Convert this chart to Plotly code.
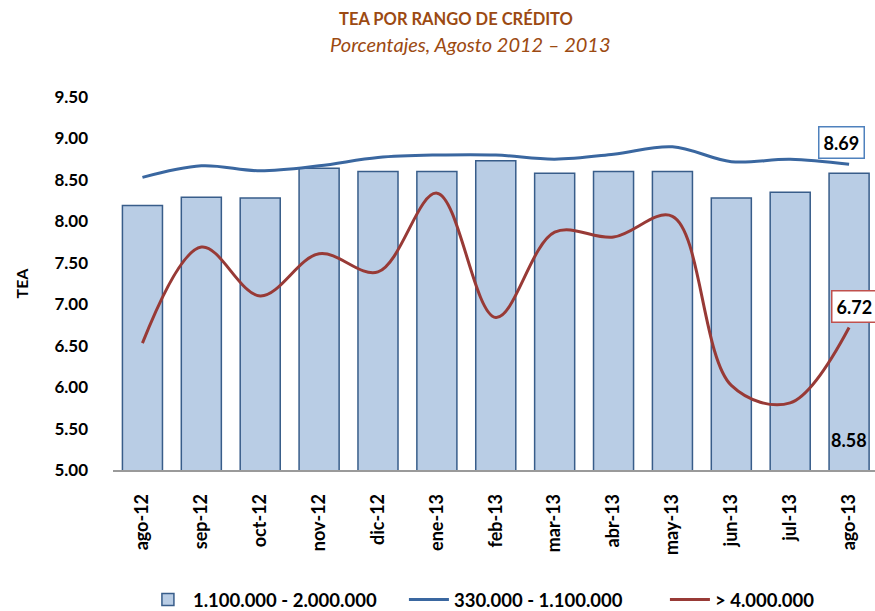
import plotly.graph_objects as go

months = ["ago-12", "sep-12", "oct-12", "nov-12", "dic-12", "ene-13", "feb-13",
          "mar-13", "abr-13", "may-13", "jun-13", "jul-13", "ago-13"]
bar_vals = [8.19, 8.29, 8.28, 8.64, 8.60, 8.60, 8.73, 8.58, 8.60, 8.60, 8.28, 8.35, 8.58]
blue_vals = [8.53, 8.67, 8.61, 8.67, 8.77, 8.80, 8.80, 8.75, 8.81, 8.90, 8.72, 8.75, 8.69]
red_vals = [6.53, 7.69, 7.10, 7.61, 7.39, 8.34, 6.84, 7.87, 7.81, 8.06, 6.02, 5.81, 6.72]
y_ticks = [5.0, 5.5, 6.0, 6.5, 7.0, 7.5, 8.0, 8.5, 9.0, 9.5]
series_names = ["1.100.000 - 2.000.000", "330.000 - 1.100.000", "> 4.000.000"]

FONT = "Lato"
BROWN = "#9C4A12"
BAR_FILL = "#B9CDE5"
BAR_LINE = "#385D8A"
BLUE = "#3A67A0"
RED = "#983A36"

x_idx = list(range(len(months)))

fig = go.Figure()
fig.add_trace(go.Bar(
    x=x_idx, y=bar_vals, base=0, name="<b>%s</b>" % series_names[0],
    marker=dict(color=BAR_FILL, line=dict(color=BAR_LINE, width=1.5)),
    width=0.68,
))
fig.add_trace(go.Scatter(
    x=x_idx, y=blue_vals, name="<b>%s</b>" % series_names[1], mode="lines",
    line=dict(color=BLUE, width=3, shape="spline", smoothing=1.0),
))
fig.add_trace(go.Scatter(
    x=x_idx, y=red_vals, name="<b>%s</b>" % series_names[2], mode="lines",
    line=dict(color=RED, width=3, shape="spline", smoothing=1.0),
))

last = len(months) - 1
annotations = [
    dict(text="<i>Porcentajes, Agosto 2012 – 2013</i>", xref="paper", yref="paper",
         x=(470 - 113) / 762, y=(470 - 44) / 373, showarrow=False,
         font=dict(family=FONT, size=20, color=BROWN), xanchor="center", yanchor="middle"),
    dict(text="<b>%.2f</b>" % blue_vals[last], x=last, y=blue_vals[last], xref="x", yref="y",
         showarrow=False, xshift=-8, yshift=22, bgcolor="white", bordercolor="#4F81BD",
         borderwidth=1.5, borderpad=4, font=dict(family=FONT, size=18, color="black")),
    dict(text="<b>%.2f</b>" % red_vals[last], x=last, y=red_vals[last], xref="x", yref="y",
         showarrow=False, xshift=5, yshift=21, bgcolor="white", bordercolor="#C0504D",
         borderwidth=1.5, borderpad=4, font=dict(family=FONT, size=18, color="black")),
    dict(text="<b>%.2f</b>" % bar_vals[last], x=last, y=5.0, xref="x", yref="y",
         showarrow=False, xshift=0, yshift=30, font=dict(family=FONT, size=18, color="black")),
]

fig.update_layout(
    width=875, height=611,
    margin=dict(l=113, r=0, t=97, b=141, autoexpand=False),
    paper_bgcolor="white", plot_bgcolor="white",
    title=dict(text="<b>TEA POR RANGO DE CRÉDITO</b>", x=456 / 875, xanchor="center",
               y=1 - 19 / 611, yanchor="middle",
               font=dict(family=FONT, size=16.5, color=BROWN)),
    font=dict(family=FONT, color="black"),
    showlegend=True,
    legend=dict(orientation="h", x=-0.0001, xanchor="left", indentation=30,
                y=(470 - 600) / 373, yanchor="middle",
                font=dict(family=FONT, size=18.5, color="black"),
                itemwidth=40, entrywidth=176, traceorder="normal"),
    annotations=annotations,
)
fig.update_xaxes(
    range=[-0.5, 12.44], tickmode="array", tickvals=x_idx,
    ticktext=["<b>%s</b>" % m for m in months], tickangle=-90,
    tickfont=dict(family=FONT, size=18, color="black"),
    showline=True, linecolor="#9A9A9A", linewidth=1.5, showgrid=False,
    ticks="", ticklabelstandoff=15, zeroline=False,
)
fig.update_yaxes(
    range=[5.0, 9.5], tickmode="array", tickvals=y_ticks,
    ticktext=["<b>%.2f</b>" % v for v in y_ticks],
    tickfont=dict(family=FONT, size=17, color="black"),
    showgrid=False, zeroline=False, showline=False, ticks="",
    ticklabelstandoff=24,
    title=dict(text="<b>TEA</b>", font=dict(family=FONT, size=16, color="black"), standoff=21),
)

fig.write_html("out.html", config={"displayModeBar": False},
               post_script="document.body.style.margin='0';")
